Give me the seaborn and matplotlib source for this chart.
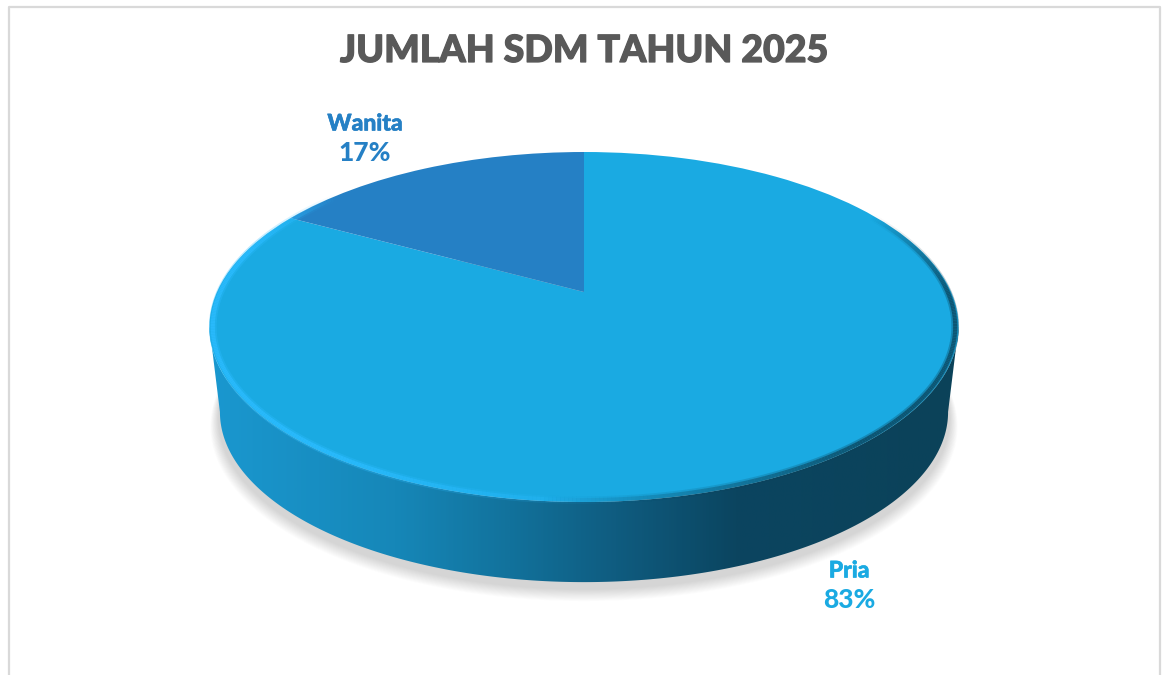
import numpy as np
import seaborn as sns
import matplotlib.pyplot as plt
import matplotlib.patheffects as pe
from matplotlib.collections import LineCollection
from matplotlib.colors import LinearSegmentedColormap, to_rgb
from matplotlib.patches import Polygon
from matplotlib.transforms import Transform

sns.set_theme(style="white")
plt.rcParams['font.family'] = ['Lato', 'DejaVu Sans']

labels = ["Pria", "Wanita"]
values = [83, 17]
colors = sns.color_palette(["#1aaae2", "#2580c5"])
label_colors = ["#1aaae2", "#2580c5"]
title = "JUMLAH SDM TAHUN 2025"


class Tilt(Transform):
    # turns the flat unit pie into the tilted disc, output in pixels
    input_dims = 2
    output_dims = 2
    is_separable = False

    def __init__(self, scale=1.0, dy=0.0):
        super().__init__()
        self.scale = scale
        self.dy = dy

    def transform_non_affine(self, values):
        pts = np.asarray(values, dtype=float)
        w = 1 + 0.2 * pts[:, 1]
        x = 584 + self.scale * 367 * pts[:, 0] / w
        y = 292 + self.scale * -168 * pts[:, 1] / w + self.dy
        return np.column_stack([x, y])


def unit_points(a):
    return np.column_stack([np.sin(a), np.cos(a)])


fig = plt.figure(figsize=(11.62, 6.75), dpi=100, facecolor="white")
ax = fig.add_axes([0, 0, 1, 1])

wedges, _ = ax.pie(values, colors=colors, startangle=90, counterclock=False,
                   wedgeprops={"linewidth": 0})
top = Tilt()
for w in wedges:
    w.set_transform(top + ax.transData)
    w.set_zorder(5)

ax.set_aspect("auto")
ax.set_xlim(0, 1162)
ax.set_ylim(675, 0)
ax.axis("off")

# frame, open at the bottom
ax.plot([9, 9, 1160, 1160], [675, 7, 7, 675], color="#d9d9d9", lw=1.6, zorder=1)

# outlines, angle runs clockwise from 12 o'clock
side_a = np.radians(np.linspace(101.5, 258.5, 300))
bottom = Tilt(0.972, 86)
front = top.transform_non_affine(unit_points(side_a))
back = bottom.transform_non_affine(unit_points(side_a))[::-1]
whole = np.radians(np.linspace(0, 360, 400))

# soft shadow
for grow in range(14, 0, -1):
    shadow = Tilt(0.975 + grow * 0.0016, 85 + 7 + grow * 0.55)
    ax.add_patch(Polygon(shadow.transform_non_affine(unit_points(whole)),
                         fc="#555555", ec="none", alpha=0.016, zorder=2))

# side wall with left to right shading
side_cmap = LinearSegmentedColormap.from_list("side", [
    (0.00, "#1a98d0"), (0.25, "#1687b8"), (0.40, "#12729c"),
    (0.54, "#0f5c80"), (0.70, "#0b4560"), (1.00, "#0b4259")])
img = ax.imshow(np.linspace(0, 1, 400).reshape(1, -1), cmap=side_cmap, vmin=0, vmax=1,
                extent=[205, 965, 600, 300], aspect="auto", zorder=3)
clip = Polygon(np.vstack([front, back]), closed=True, transform=ax.transData,
               fc="none", ec="none")
ax.add_patch(clip)
img.set_clip_path(clip)
ax.set_xlim(0, 1162)
ax.set_ylim(675, 0)

# bevel along the rim of the top face
rim_t = np.linspace(0, 360, 721)
bright_a = np.interp(rim_t, [170, 215, 285, 310], [0, 1, 1, 0])
dark_a = np.interp(rim_t, [60, 90, 140, 185], [0, 0.9, 0.9, 0])
for color, alpha in [("#2bbcff", bright_a), ("#0b4259", dark_a)]:
    for inset, lw, k in [(0.009, 5.5, 0.35), (0.009, 3, 0.8)]:
        pts = Tilt(1 - inset).transform_non_affine(unit_points(np.radians(rim_t)))
        segs = np.stack([pts[:-1], pts[1:]], axis=1)
        rgba = np.column_stack([np.tile(to_rgb(color), (len(segs), 1)), alpha[:-1] * k])
        ax.add_collection(LineCollection(segs, colors=rgba, linewidths=lw, zorder=6,
                                         capstyle="butt"))

t = ax.text(584, 51, title, ha="center", va="center", fontsize=27, fontweight=900,
            color="#595959", zorder=10)
t.set_path_effects([pe.withStroke(linewidth=0.9, foreground="#595959")])

label_pos = [(849, 571), (365, 124)]
for name, val, col, (lx, ly) in zip(labels, values, label_colors, label_pos):
    t1 = ax.text(lx, ly, name, ha="center", va="center", fontsize=16.5, fontweight=900,
                 color=col, zorder=10)
    t2 = ax.text(lx, ly + 29, f"{val / sum(values):.0%}", ha="center", va="center",
                 fontsize=19, fontweight=900, color=col, zorder=10)
    t1.set_path_effects([pe.withStroke(linewidth=0.4, foreground=col)])

fig.savefig("out.png", dpi=100)
